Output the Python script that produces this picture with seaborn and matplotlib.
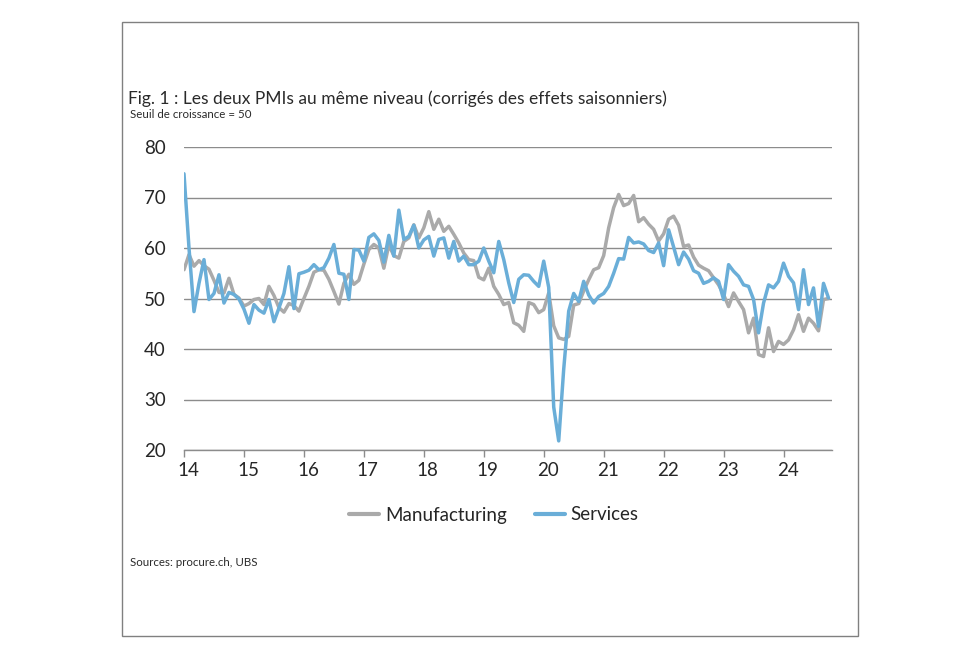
import numpy as np
import pandas as pd
import matplotlib
matplotlib.use("Agg")
import matplotlib.pyplot as plt
import matplotlib.transforms as mtransforms
import seaborn as sns
from matplotlib.patches import Rectangle

# Monthly PMI values, Jan 2014 .. Oct 2024
manufacturing = [
    55.7, 58.7, 56.4, 57.5, 56.5, 55.8, 53.6, 51.2, 51.1, 54.0, 50.8, 50.1,   # 2014
    48.5, 49.0, 49.8, 50.0, 48.8, 52.4, 50.6, 48.2, 47.3, 49.0, 48.6, 47.5,   # 2015
    50.0, 52.4, 55.2, 55.7, 55.6, 53.8, 51.4, 48.9, 53.0, 54.8, 52.8, 53.6,   # 2016
    56.8, 59.7, 60.7, 60.0, 56.0, 60.6, 58.5, 58.0, 61.3, 62.0, 64.6, 62.0,   # 2017
    64.0, 67.2, 63.7, 65.7, 63.3, 64.3, 62.7, 61.0, 59.0, 57.7, 57.5, 54.2,   # 2018
    53.7, 56.0, 52.4, 50.8, 48.8, 49.2, 45.2, 44.7, 43.5, 49.2, 48.8, 47.2,   # 2019
    47.8, 51.1, 44.6, 42.2, 41.9, 42.5, 48.7, 49.0, 51.5, 53.7, 55.7, 56.1,   # 2020
    58.5, 64.0, 68.0, 70.6, 68.4, 68.8, 70.4, 65.2, 66.0, 64.7, 63.7, 61.4,   # 2021
    62.8, 65.7, 66.3, 64.5, 60.3, 60.6, 58.2, 56.6, 56.0, 55.5, 54.1, 52.7,   # 2022
    50.8, 48.4, 51.1, 49.4, 47.8, 43.2, 46.1, 38.9, 38.5, 44.2, 39.5, 41.5,   # 2023
    40.9, 41.8, 43.8, 46.8, 43.5, 46.1, 45.1, 43.6, 49.8, 50.0,               # 2024
]
services = [
    74.7, 60.0, 47.4, 53.0, 57.7, 49.8, 51.0, 54.7, 49.1, 51.2, 50.8, 49.9,   # 2014
    47.9, 45.1, 48.8, 47.7, 47.1, 49.8, 45.4, 48.1, 51.0, 56.3, 48.0, 54.9,   # 2015
    55.2, 55.6, 56.7, 55.7, 56.1, 58.0, 60.7, 55.0, 54.8, 49.8, 59.7, 59.6,   # 2016
    57.4, 62.1, 62.8, 61.5, 57.2, 62.5, 58.4, 67.5, 61.7, 62.3, 64.5, 60.0,   # 2017
    61.6, 62.3, 58.4, 61.7, 62.0, 58.0, 61.3, 57.4, 58.4, 56.7, 56.7, 57.4,   # 2018
    60.0, 57.4, 55.1, 61.3, 57.7, 53.1, 49.2, 53.8, 54.7, 54.6, 53.4, 52.4,   # 2019
    57.4, 52.2, 28.5, 21.8, 36.0, 47.5, 51.0, 49.4, 53.4, 50.7, 49.1, 50.4,   # 2020
    51.0, 52.4, 55.0, 57.9, 57.8, 62.1, 61.0, 61.2, 60.8, 59.5, 59.1, 61.0,   # 2021
    56.5, 63.6, 60.2, 56.7, 59.2, 57.8, 55.5, 55.0, 53.0, 53.4, 54.1, 53.4,   # 2022
    49.8, 56.7, 55.4, 54.4, 52.7, 52.4, 49.8, 43.2, 49.1, 52.7, 52.1, 53.4,   # 2023
    57.0, 54.4, 53.1, 47.8, 55.7, 48.8, 52.1, 44.5, 53.0, 50.1,               # 2024
]
year_ticks = list(range(14, 25))
y_ticks = [20, 30, 40, 50, 60, 70, 80]
series_names = ["Manufacturing", "Services"]
colors = ["#aaaaaa", "#6aaed8"]

months = np.arange(len(services))
df = pd.DataFrame({
    "year": np.concatenate([14 + months / 12, 14 + months / 12]),
    "pmi": manufacturing + services,
    "series": [series_names[0]] * len(manufacturing) + [series_names[1]] * len(services),
})

sns.set_style("white")
plt.rcParams["font.family"] = ["Lato", "DejaVu Sans"]

fig = plt.figure(figsize=(9.8, 6.54), dpi=100)
ax = fig.add_axes([184 / 980, 1 - 450 / 654, (832 - 184) / 980, (450 - 147) / 654])

sns.lineplot(data=df, x="year", y="pmi", hue="series", palette=colors,
             linewidth=2.5, ax=ax, legend=False)

ax.set_xlim(14, 14 + 129.7 / 12)
ax.set_ylim(20, 80)
ax.set_yticks(y_ticks)
ax.set_xticks(year_ticks)
ax.set_xticklabels([str(y) for y in year_ticks])
ax.tick_params(axis="y", length=0, labelsize=13.5, pad=13)
ax.tick_params(axis="x", length=5, width=1, color="#8c8c8c", labelsize=13.5, pad=4,
               direction="out", bottom=True)
shift = mtransforms.ScaledTranslation(4 / 100, 0, fig.dpi_scale_trans)
for lbl in ax.get_xticklabels():
    lbl.set_transform(lbl.get_transform() + shift)
ax.set_xlabel("")
ax.set_ylabel("")
ax.grid(axis="y", color="#8c8c8c", linewidth=1.0)
ax.grid(axis="x", visible=False)
ax.set_axisbelow(True)
for side in ["left", "right", "top"]:
    ax.spines[side].set_visible(False)
ax.spines["bottom"].set_color("#8c8c8c")
ax.spines["bottom"].set_linewidth(1.0)

# legend
handles = [plt.Line2D([], [], color=c, linewidth=3) for c in colors]
fig.legend(handles, series_names, loc="center", bbox_to_anchor=(494 / 980, 1 - 515 / 654),
           ncol=2, frameon=False, fontsize=13.5, handlelength=1.6, handletextpad=0.3,
           columnspacing=1.5)

# titles and source
fig.text(128 / 980, 1 - 99 / 654, "Fig. 1 : Les deux PMIs au même niveau (corrigés des effets saisonniers)",
         fontsize=12.5, va="center", ha="left", color="#2a2a2a")
fig.text(130 / 980, 1 - 115 / 654, "Seuil de croissance = 50", fontsize=8.3,
         va="center", ha="left", color="#2a2a2a")
fig.text(130 / 980, 1 - 562 / 654, "Sources: procure.ch, UBS", fontsize=8.3,
         va="center", ha="left", color="#2a2a2a")

# outer frame
fig.patches.append(Rectangle((122 / 980, 1 - 636 / 654), (858 - 122) / 980, (636 - 22) / 654,
                             transform=fig.transFigure, fill=False, edgecolor="#808080",
                             linewidth=1.0))

fig.savefig("out.png", dpi=100)
